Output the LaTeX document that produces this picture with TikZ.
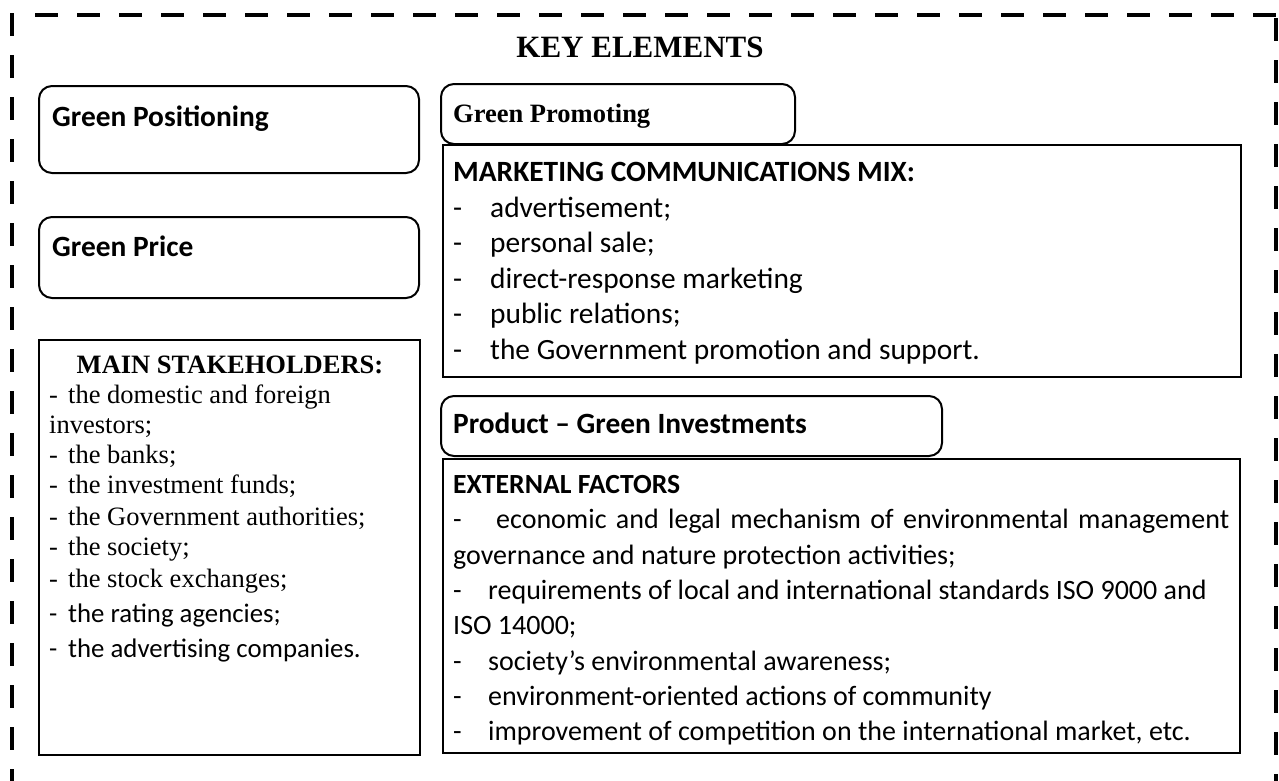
\documentclass[tikz,border=0pt]{standalone}
\usepackage{fontspec}
\setmainfont{Liberation Serif}
\newfontfamily\calibri{Carlito}
\newcommand\itemdash[1]{\makebox[#1][l]{-}}
\tikzset{
  tabbox/.style={line width=2pt,rounded corners=13pt},
  listbox/.style={line width=2pt},
  frame/.style={line width=4.5pt,dash pattern=on 23pt off 19pt}
}
\begin{document}
\begin{tikzpicture}[x=1pt,y=-1pt,
  cal/.style={anchor=base west,inner sep=0pt,font=\calibri\fontsize{28}{33}\selectfont},
  calb/.style={cal,font=\calibri\bfseries\fontsize{27.7}{33}\selectfont},
  calm/.style={cal,font=\calibri\fontsize{29.4}{35}\selectfont},
  calh/.style={cal,font=\calibri\bfseries\fontsize{29.4}{35}\selectfont},
  tim/.style={anchor=base west,inner sep=0pt,font=\fontsize{26.5}{32}\selectfont},
  timb/.style={tim,font=\bfseries\fontsize{26.5}{32}\selectfont}]
\useasboundingbox (0,0) rectangle (1279,780);
\clip (0,0) rectangle (1279,780);
% dashed frame
\draw[frame] (35,15)--(1276,15);
\draw[frame] (12,13)--(12,800);
\draw[frame] (1276,18)--(1276,800);
\node[font=\bfseries\fontsize{31}{37}\selectfont,anchor=base,inner sep=0pt] (title) at (640,57) {KEY ELEMENTS};
% left column
\draw[tabbox] (39,86) rectangle (419,173);
\node[calh] (pos) at (52,126) {Green Positioning};
\draw[tabbox] (39,217) rectangle (419,298);
\node[calh] (price) at (52,256) {Green Price};
\draw[listbox] (39,340) rectangle (420,755);
\node[timb,anchor=base] (stake) at (230,373) {MAIN STAKEHOLDERS:};
\node[tim] (st1) at (49,403) {\itemdash{19pt}the domestic and foreign};
\node[tim] (st2) at (49,433) {investors;};
\node[tim] (st3) at (49,463) {\itemdash{19pt}the banks;};
\node[tim] (st4) at (49,493) {\itemdash{19pt}the investment funds;};
\node[tim] (st5) at (49,525) {\itemdash{19pt}the Government authorities;};
\node[tim] (st6) at (49,555) {\itemdash{19pt}the society;};
\node[tim] (st7) at (49,587) {\itemdash{19pt}the stock exchanges;};
\node[cal,font=\calibri\fontsize{26.8}{33}\selectfont] (st8) at (49,622) {\itemdash{19pt}the rating agencies;};
\node[cal,font=\calibri\fontsize{26.8}{33}\selectfont] (st9) at (49,657) {\itemdash{19pt}the advertising companies.};
% promotion
\draw[listbox] (443,145) rectangle (1241,377);
\draw[tabbox] (441,84) rectangle (795,144);
\node[timb] (promo) at (453,122) {Green Promoting};
\node[calh] (mix) at (453,181) {MARKETING COMMUNICATIONS MIX:};
\node[calm] (mix1) at (453,217) {\itemdash{37pt}advertisement;};
\node[calm] (mix2) at (453,252) {\itemdash{37pt}personal sale;};
\node[calm] (mix3) at (453,288) {\itemdash{37pt}direct-response marketing};
\node[calm] (mix4) at (453,323) {\itemdash{37pt}public relations;};
\node[calm] (mix5) at (453,359) {\itemdash{37pt}the Government promotion and support.};
% product
\draw[listbox] (443,459) rectangle (1240,753);
\draw[tabbox] (441,396) rectangle (942,456);
\node[calh] (product) at (453,433) {Product – Green Investments};
\node[calb] (ext) at (453,493) {EXTERNAL FACTORS};
\node[cal] (ext1) at (453,528) {\itemdash{43pt}\makebox[733pt][s]{economic and legal mechanism of environmental management}};
\node[cal] (ext2) at (453,564) {governance and nature protection activities;};
\node[cal] (ext3) at (453,599) {\itemdash{35pt}requirements of local and international standards ISO 9000 and};
\node[cal] (ext4) at (453,634) {ISO 14000;};
\node[cal] (ext5) at (453,670) {\itemdash{35pt}society’s environmental awareness;};
\node[cal] (ext6) at (453,705) {\itemdash{35pt}environment-oriented actions of community};
\node[cal] (ext7) at (453,740) {\itemdash{35pt}improvement of competition on the international market, etc.};
\end{tikzpicture}
\end{document}
